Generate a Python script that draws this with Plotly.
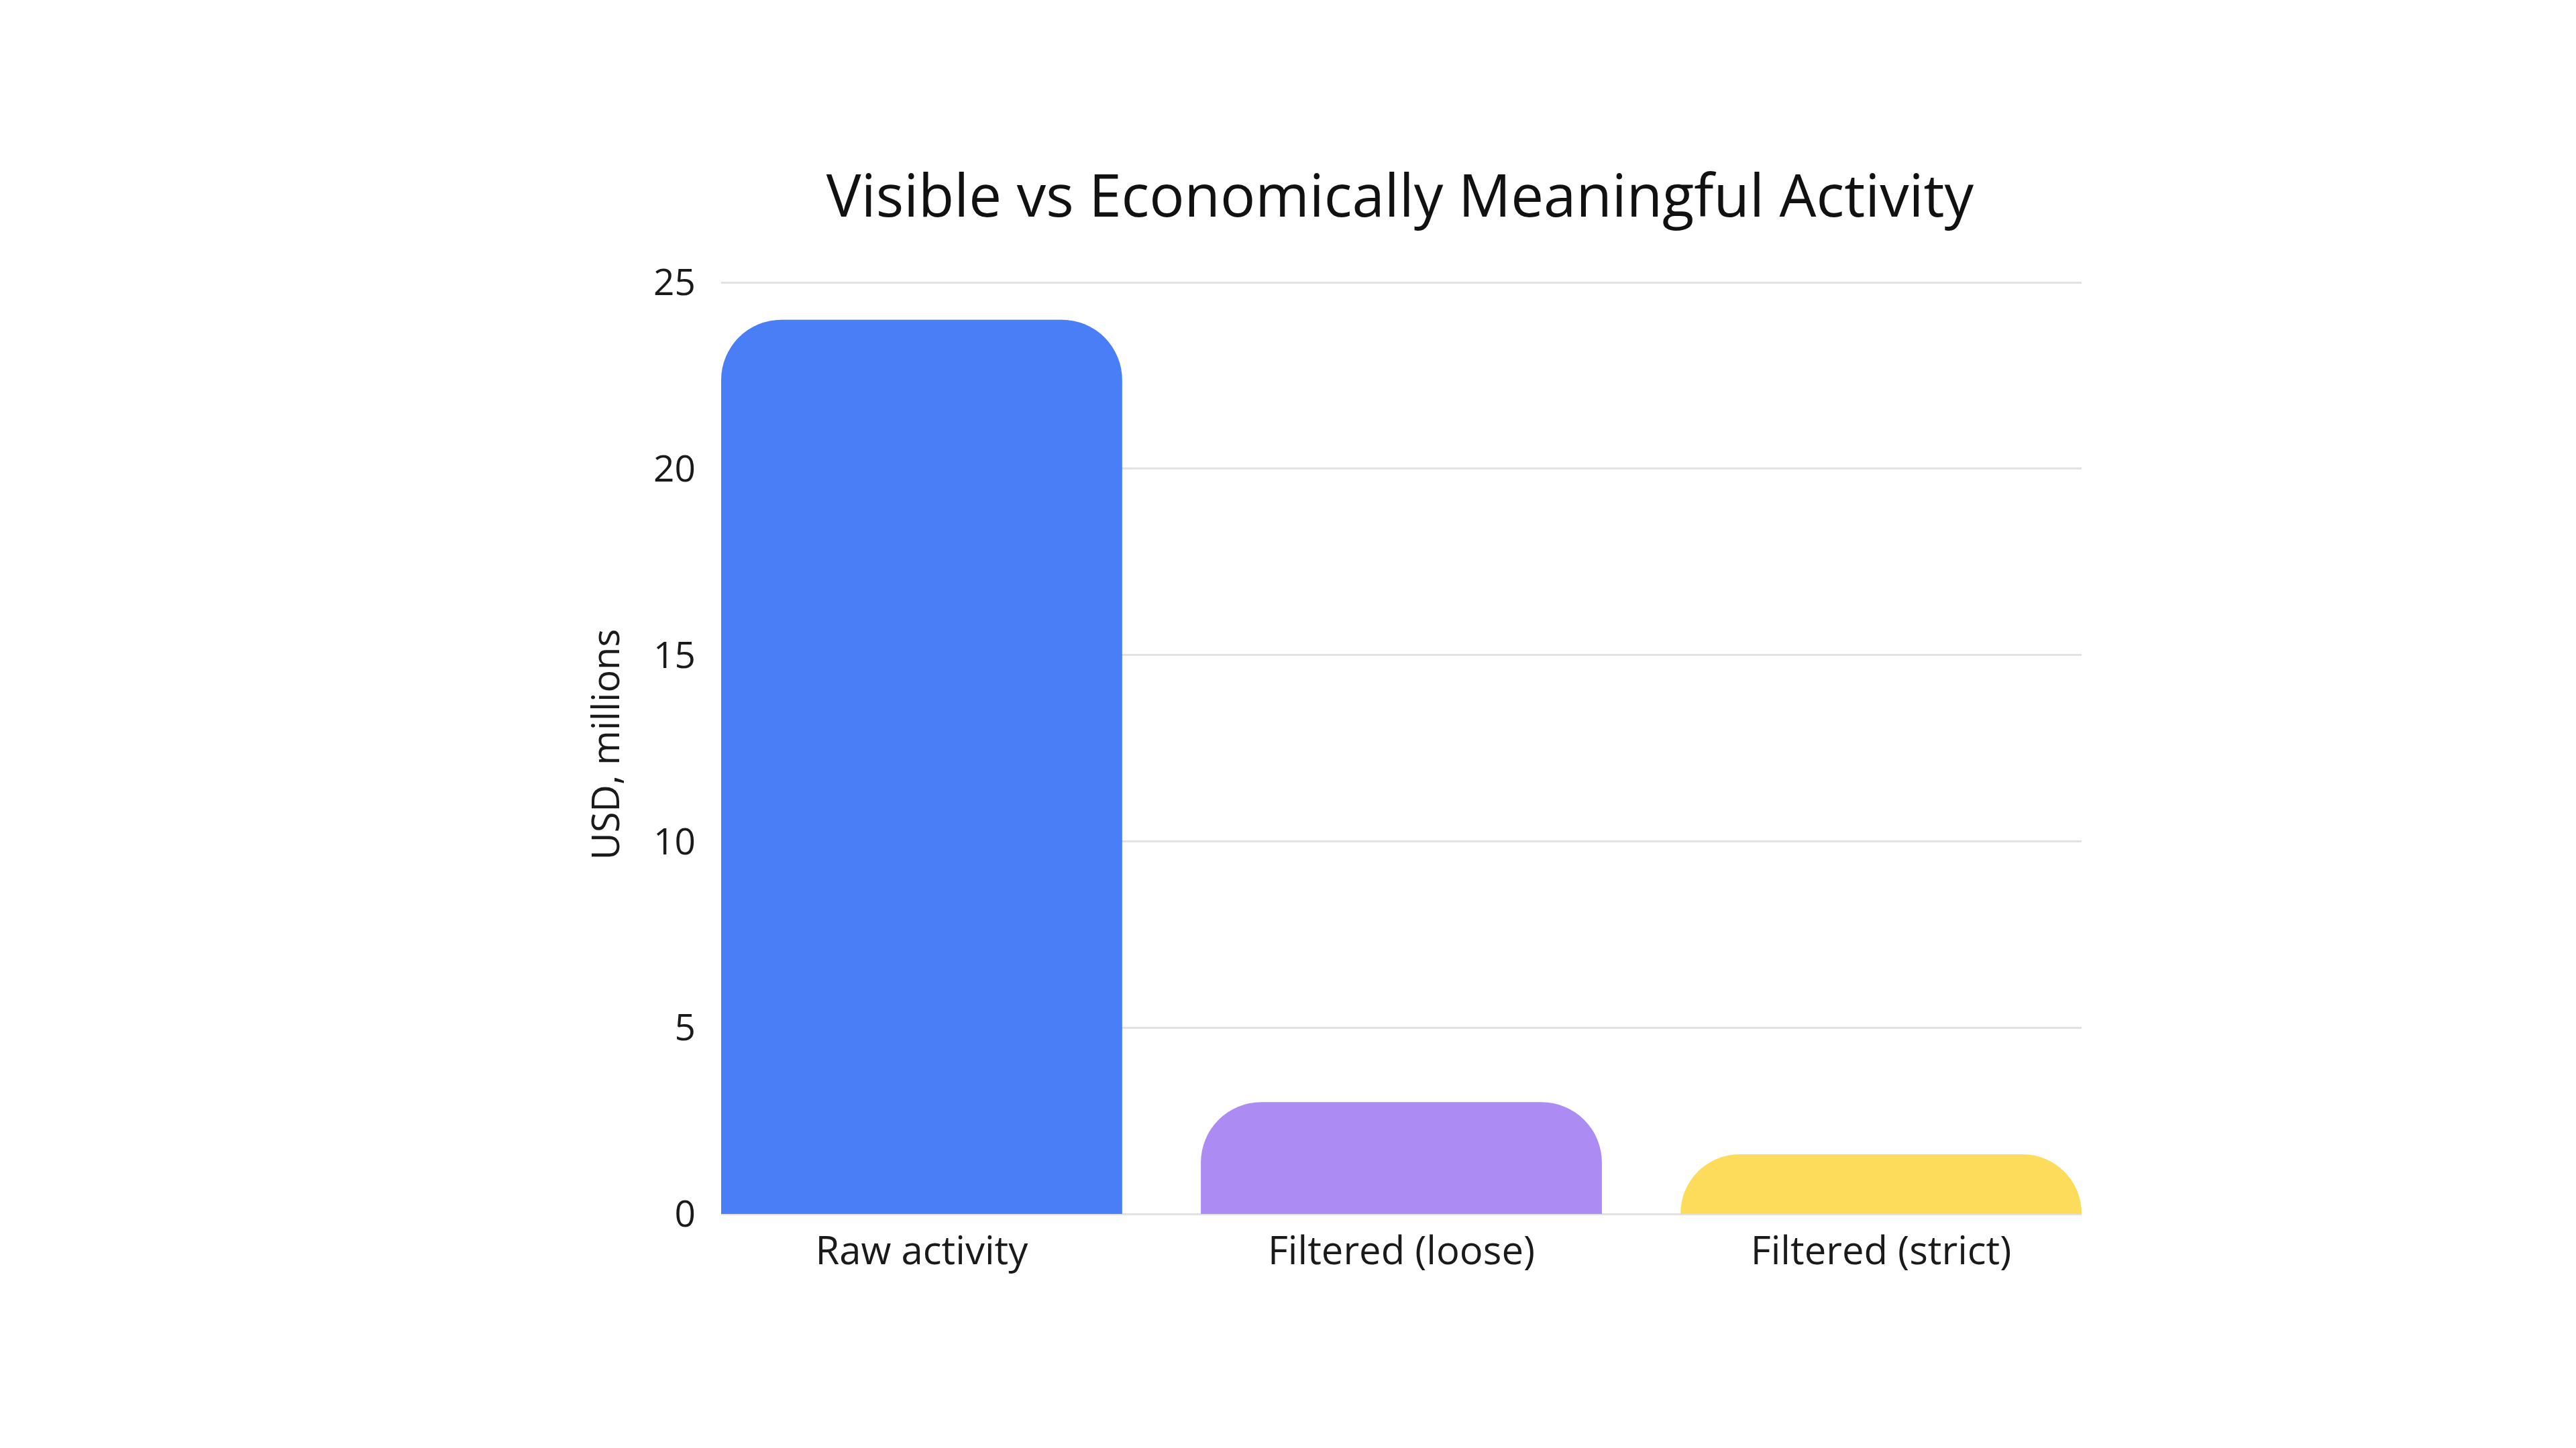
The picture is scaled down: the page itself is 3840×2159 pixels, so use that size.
import plotly.graph_objects as go

categories = ["Raw activity", "Filtered (loose)", "Filtered (strict)"]
values = [24.0, 3.0, 1.6]
colors = ["#4A7EF7", "#AC8CF2", "#FDDC5C"]
y_ticks = [0, 5, 10, 15, 20, 25]

W, H = 3840, 2159
L, R, T, B = 1075, 3840 - 3103, 421, 2159 - 1810

# small headroom above 25 so the top gridline is drawn
y_max = 25.2
px_per_unit = (1810 - 421) / 25.0
T_adj = int(round(T - (y_max - 25.0) * px_per_unit))

fig = go.Figure(go.Bar(
    x=categories, y=values, marker=dict(color=colors, line=dict(width=0)),
    hoverinfo="skip",
))

font_family = "Open Sans, Lato, sans-serif"
fig.update_layout(
    width=W, height=H, autosize=False,
    margin=dict(l=L, r=R, t=T_adj, b=B, pad=0),
    paper_bgcolor="white", plot_bgcolor="white",
    bargap=0.164, barcornerradius=90,
    showlegend=False,
    title=dict(text="Visible vs Economically Meaningful Activity",
               x=(2087 - L) / (3103 - L), xref="paper", xanchor="center",
               y=1 - 293 / H, yref="container", yanchor="middle",
               font=dict(family=font_family, size=87, color="#111111")),
    font=dict(family=font_family, color="#222222"),
)
fig.update_xaxes(
    range=[-0.418, 2.418], showgrid=False, showline=False, zeroline=False,
    ticks="outside", ticklen=4, tickcolor="rgba(0,0,0,0)",
    tickfont=dict(size=58, color="#1a1a1a", family=font_family),
)
fig.update_yaxes(
    range=[0, y_max], tickvals=y_ticks, ticktext=[str(v) for v in y_ticks],
    showgrid=True, gridcolor="#e2e2e2", gridwidth=3,
    zeroline=True, zerolinecolor="#e2e2e2", zerolinewidth=3,
    showline=False, ticks="outside", ticklen=26, tickcolor="rgba(0,0,0,0)",
    tickfont=dict(size=55, color="#1a1a1a", family=font_family),
    title=dict(text="USD, millions", standoff=32,
               font=dict(size=56, color="#1a1a1a", family=font_family)),
)

fig.write_html("out.html")
